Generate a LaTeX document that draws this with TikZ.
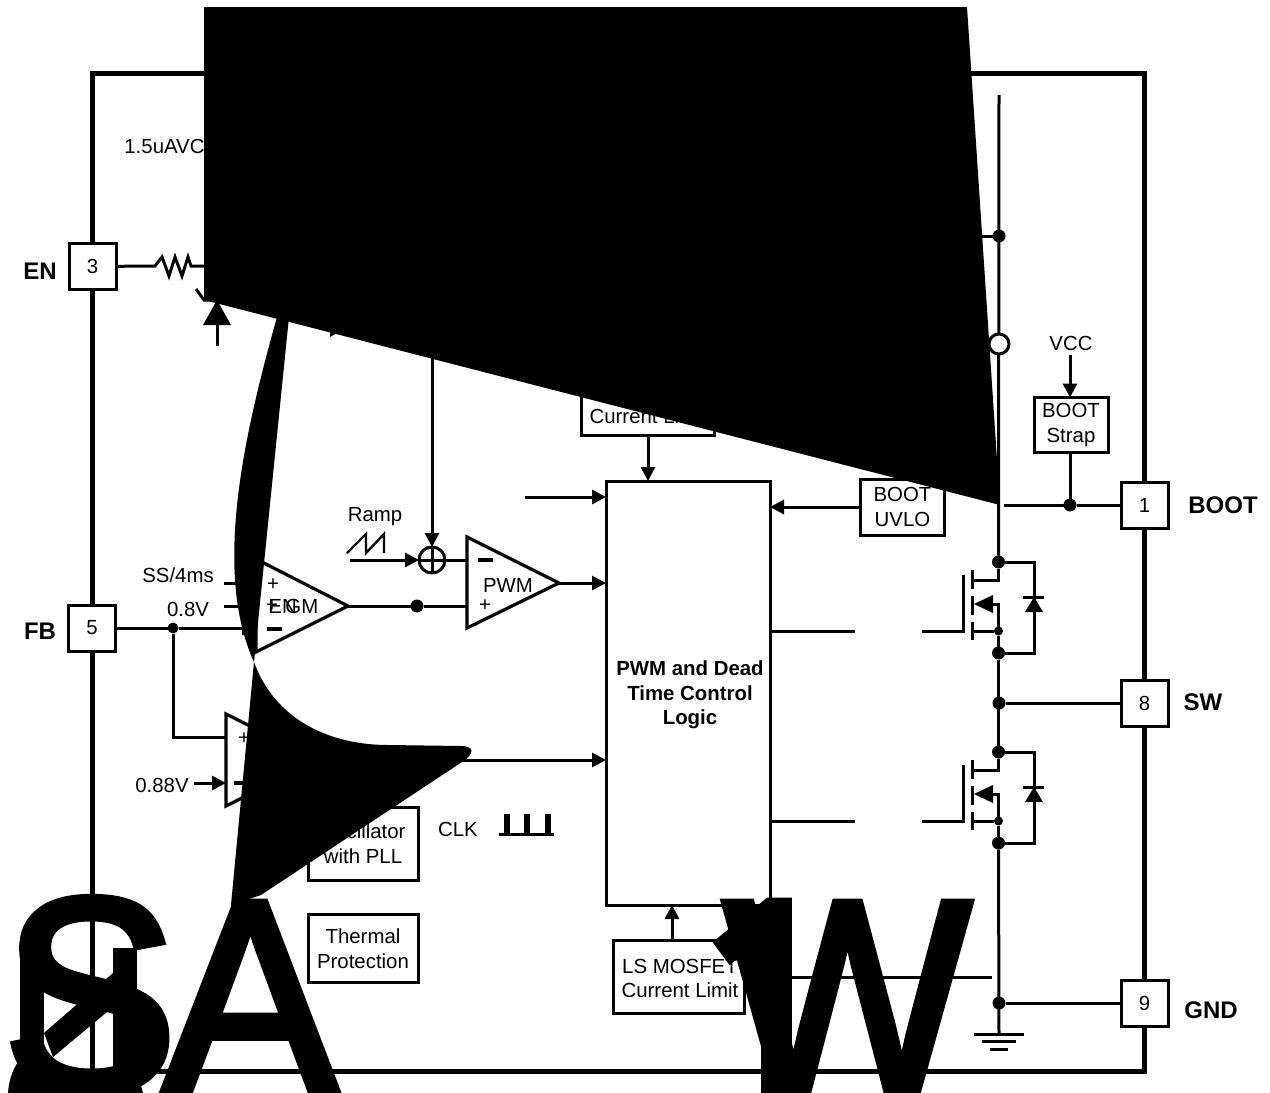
\documentclass[tikz,border=0pt]{standalone}
\usepackage{fontspec}
\setmainfont{Liberation Sans}
\newfontfamily\bigsans[FakeBold=3,FakeStretch=0.95]{Liberation Sans}
\newfontfamily\bigdigit[FakeBold=3,FakeStretch=0.95]{Noto Sans}
\usetikzlibrary{arrows.meta}
\tikzset{
  wire/.style={line width=1.5pt},
  towire/.style={line width=1.5pt, -{Triangle[length=7pt,width=7pt]}},
  framewire/.style={line width=2.5pt},
  inkfill/.style={fill=black, draw=none},
  ampshape/.style={line width=1.6pt, line join=miter, fill=white},
  sigtext/.style={font=\fontsize{10.2}{12.25}\selectfont, inner sep=0pt, align=center},
  pinlabel/.style={font=\fontsize{12}{14}\selectfont\bfseries, inner sep=0pt},
  pinbox/.style={draw, line width=1.5pt, fill=white, minimum width=23.5pt, minimum height=23pt, inner sep=0pt, outer sep=0pt, font=\fontsize{10.2}{12}\selectfont},
  blockbox/.style={draw, line width=1.5pt, fill=white, inner sep=0pt, outer sep=0pt, align=center, font=\fontsize{10.2}{12.25}\selectfont},
  junction/.style={circle, fill=black, inner sep=0pt, outer sep=0pt, minimum size=6.5pt},
  smalljunction/.style={circle, fill=black, inner sep=0pt, outer sep=0pt, minimum size=4.5pt},
  bigglyph/.style={font=\bigsans\fontsize{137.5}{140}\selectfont, inner sep=0pt, outer sep=0pt, anchor=base west},
  bigone/.style={font=\bigdigit\fontsize{137.5}{140}\selectfont, inner sep=0pt, outer sep=0pt, anchor=base west},
}
\begin{document}
\begin{tikzpicture}[x=0.5pt,y=-0.5pt]
  \useasboundingbox (0,0) rectangle (1270,1093);
  \fill[white] (0,0) rectangle (1270,1093);
  \draw[framewire] (92,73) rectangle (1144,1071);

  % pins
  \node[pinbox] (pinEN) at (92.5,266.5) {3};
  \node[pinbox] (pinFB) at (92,628) {5};
  \node[pinbox] (pinBOOT) at (1144.5,505) {1};
  \node[pinbox] (pinSW) at (1144.5,703) {8};
  \node[pinbox] (pinGND) at (1144.5,1003) {9};
  \node[pinlabel] (lblEN) at (40,271) {EN};
  \node[pinlabel] (lblFB) at (40,631) {FB};
  \node[pinlabel] (lblBOOT) at (1223,505) {BOOT};
  \node[pinlabel] (lblSW) at (1203,702) {SW};
  \node[pinlabel] (lblGND) at (1211,1010) {GND};

  % blocks
  \node[blockbox, minimum width=82pt, minimum height=212pt] (pwmLogic) at (688,693) {};
  \node[sigtext, font=\fontsize{10.2}{12.25}\selectfont\bfseries] (lblLogic) at (690,695) {PWM and Dead\\Time Control\\Logic};
  \node[blockbox, minimum width=66.5pt, minimum height=35pt] (hsLimit) at (647.5,400) {};
  \node[sigtext] (lblHsLimit) at (648,416) {Current Limit};
  \node[blockbox, minimum width=65.5pt, minimum height=36.5pt] (lsLimit) at (678.5,976.5) {};
  \node[sigtext] (lblLsLimit) at (680,978.5) {LS MOSFET\\Current Limit};
  \node[blockbox, minimum width=42pt, minimum height=28pt] (bootUvlo) at (902.5,507) {BOOT\\UVLO};
  \node[blockbox, minimum width=37pt, minimum height=27.5pt] (bootStrap) at (1071,425) {BOOT\\Strap};
  \node[blockbox, minimum width=55pt, minimum height=36.5pt] (oscPll) at (363,843.5) {Oscillator\\with PLL};
  \node[blockbox, minimum width=55pt, minimum height=34pt] (thermal) at (363,948.5) {Thermal\\Protection};

  % amplifiers
  \coordinate (eaTop) at (256,559);
  \coordinate (eaBot) at (256,652);
  \coordinate (eaOut) at (348,606);
  \coordinate (pwmTop) at (467,537);
  \coordinate (pwmBot) at (467,628);
  \coordinate (pwmOut) at (559,583);
  \coordinate (ovTop) at (226,714);
  \coordinate (ovBot) at (226,806);
  \coordinate (ovOut) at (318,760);
  \draw[ampshape] (eaTop) -- (eaOut) -- (eaBot) -- cycle;
  \draw[ampshape] (pwmTop) -- (pwmOut) -- (pwmBot) -- cycle;
  \draw[ampshape] (ovTop) -- (ovOut) -- (ovBot) -- cycle;
  \node[sigtext] (lblPwm) at (508,585) {PWM};
  \node[sigtext] (lblPwmP) at (485,606) {+};
  \node[sigtext] (lblPwmM) at (485.5,560) {\rule{7.5pt}{1.7pt}};
  \node[sigtext] (lblEaP) at (273,585) {+};
  \node[sigtext] (lblEaP2) at (272,606) {+};
  \node[sigtext] (lblEaM) at (274.5,629) {\rule{7.5pt}{1.7pt}};
  \node[sigtext, anchor=west] (lblEn) at (268,606) {EN};
  \node[sigtext, anchor=west] (lblGm) at (285,606) {GM};
  \node[sigtext] (lblOvP) at (244,739) {+};
  \node[sigtext] (lblOvM) at (241,783) {\rule{7.5pt}{1.7pt}};

  % signals round the amplifiers
  \node[junction] (jEa) at (417,606) {};
  \node[junction, minimum size=5.5pt] (jFb) at (173,628) {};
  \node[circle, draw, line width=1.5pt, fill=white, minimum size=13pt, inner sep=0pt, outer sep=0pt] (sumNode) at (432,560) {};
  \draw[wire] (sumNode.north) -- (sumNode.south);
  \draw[wire] (sumNode.west) -- (sumNode.east);
  \coordinate (sumIn) at (350,560);
  \coordinate (sumTop) at (432,340);
  \coordinate (pwmMinus) at (467,560);
  \coordinate (pwmPlus) at (467,606);
  \coordinate (ssEnd) at (224,583);
  \coordinate (ssIn) at (256,583);
  \coordinate (refEnd) at (224,606);
  \coordinate (refIn) at (256,606);
  \coordinate (fbIn) at (256,628);
  \coordinate (ovPlus) at (226,737);
  \coordinate (ovMinus) at (226,783);
  \coordinate (ovRef) at (194,783);
  \coordinate (logicFree) at (525,497);
  \draw[towire] (sumIn) -- (sumNode);
  \draw[towire] (sumTop) -- (sumNode);
  \draw[wire] (sumNode) -- (pwmMinus);
  \draw[wire] (eaOut) -- (jEa) -- (pwmPlus);
  \draw[towire] (pwmOut) -- (pwmOut -| pwmLogic.west);
  \draw[towire] (ovOut) -- (ovOut -| pwmLogic.west);
  \draw[towire] (logicFree) -- (logicFree -| pwmLogic.west);
  \draw[wire] (ssEnd) -- (ssIn);
  \draw[wire] (refEnd) -- (refIn);
  \draw[towire] (pinFB) -- (jFb) -- (fbIn);
  \draw[wire] (jFb) |- (ovPlus);
  \draw[towire] (ovRef) -- (ovMinus);
  \node[sigtext] (lblSs) at (178,575) {SS/4ms};
  \node[sigtext] (lblRef) at (188,609) {0.8V};
  \node[sigtext] (lblOvRef) at (162,785) {0.88V};
  \node[sigtext] (lblRamp) at (375,517) {Ramp};
  \node[sigtext] (lblClk) at (458,829) {CLK};
  \node[sigtext, anchor=west] (lblUa) at (124,146) {1.5uAVC};
  \draw[line width=1.2pt] (347,553) -- (366,534) -- (366,553) -- (384,534) -- (384,553);
  \draw[line width=1.5pt] (499,834) -- (505,834) -- (505,815) -- (508,815) -- (508,834) -- (525,834) -- (525,815) -- (528,815) -- (528,834) -- (546,834) -- (546,815) -- (549,815) -- (549,834) -- (554,834);

  % EN input
  \coordinate (enRes) at (155,266);
  \coordinate (enEnd) at (215,266);
  \draw[wire] (pinEN) -- (enRes) -- (162,257) -- (169,276) -- (175,257) -- (182,276) -- (188,257) -- (191,266) -- (enEnd);
  \coordinate (znTip) at (217,300);
  \coordinate (znFoot) at (217,346);
  \draw[wire] (196,289) -- (204,300) -- (znTip);
  \draw[wire] (znTip) -- (znFoot);
  \fill (znTip) -- (203,325) -- (231,325) -- cycle;
  \fill (330,312) -- (330,337) -- (346,328) -- cycle;

  % logic connections
  \coordinate (limitDrop) at (648,435);
  \coordinate (lsUp) at (672,940);
  \draw[towire] (limitDrop) -- (limitDrop |- pwmLogic.north);
  \draw[towire] (lsUp) -- (lsUp |- pwmLogic.south);
  \draw[towire] (bootUvlo.west) -- (bootUvlo.west -| pwmLogic.east);
  \coordinate (lsSense) at (770,977);
  \coordinate (lsSenseEnd) at (992,977);
  \draw[wire] (lsSense) -- (lsSenseEnd);

  % rail
  \coordinate (railTop) at (999,95);
  \coordinate (gndTop) at (999,1034);
  \node[junction] (jRail) at (999,236) {};
  \coordinate (jRailIn) at (975,236);
  \node[junction] (jBoot) at (1070,505) {};
  \coordinate (bootStub) at (1004,505);
  \coordinate (vccEnd) at (1070,355);
  \node[sigtext] (lblVcc) at (1071,343) {VCC};
  \draw[towire] (vccEnd) -- (bootStrap.north -| vccEnd);
  \draw[wire] (bootStrap.south -| jBoot) -- (jBoot);
  \draw[wire] (bootStub) -- (jBoot) -- (pinBOOT);
  \draw[wire] (jRailIn) -- (jRail);
  \node[junction] (jSw) at (999,703) {};
  \node[junction] (jGnd) at (999,1003) {};
  \draw[wire] (jSw) -- (pinSW);
  \draw[wire] (jGnd) -- (pinGND);
  \foreach \dy in {0,190} {
    \node[junction] (jDr\dy) at (998.5,{562+\dy}) {};
    \node[smalljunction] (jBody\dy) at (998.5,{631+\dy}) {};
    \node[junction] (jSo\dy) at (998.5,{653+\dy}) {};
    \coordinate (gateOut\dy) at (770,{631+\dy});
    \coordinate (gateEnd\dy) at (855,{631+\dy});
    \coordinate (gateIn\dy) at (922,{631+\dy});
    \draw[wire] (gateOut\dy) -- (gateEnd\dy);
    \draw[wire] (gateIn\dy) -- (963,{631+\dy}) -- (963,{575+\dy});
    \draw[wire] (972,{570+\dy}) -- (972,{589+\dy});
    \draw[wire] (972,{596+\dy}) -- (972,{615+\dy});
    \draw[wire] (972,{622+\dy}) -- (972,{640+\dy});
    \draw[wire] (972,{580+\dy}) -| (jDr\dy);
    \draw[wire] (972,{631+\dy}) -- (jBody\dy);
    \draw[wire] (993,{604+\dy}) -| (jBody\dy);
    \draw[wire] (jBody\dy) -- (jSo\dy);
    \fill (974,{604+\dy}) -- (993,{595+\dy}) -- (993,{613+\dy}) -- cycle;
    \draw[wire] (jDr\dy) -| (1034,{597+\dy});
    \draw[wire] (1034,{597+\dy}) -- (1034,{653+\dy}) -- (jSo\dy);
    \draw[wire] (1023,{597+\dy}) -- (1044,{597+\dy});
    \fill (1034,{597+\dy}) -- (1025,{612+\dy}) -- (1043,{612+\dy}) -- cycle;
  }
  \draw[wire] (railTop) -- (jDr0);
  \draw[wire] (jSo0) -- (jDr190);
  \draw[wire] (jSo190) -- (gndTop);
  \node[circle, draw, line width=1.5pt, fill=white, minimum size=10pt, inner sep=0pt, outer sep=0pt] (railOpen) at (999,344) {};
  \draw[wire] (974,1034) -- (1024,1034);
  \draw[wire] (982,1041.5) -- (1016,1041.5);
  \draw[wire] (990,1049) -- (1008,1049);

  % black ink over the drawing
  \fill[inkfill] (204,7) -- (967,7) -- (1000,505) -- (204,300) -- cycle;
  \fill[inkfill] (279,310) .. controls (245,430) and (212,570) .. (254,662) -- (289,317) -- cycle;
  \fill[inkfill] (254,662) .. controls (275,720) and (330,745) .. (388,745) -- (461,746) .. controls (472,746) and (476,751) .. (465,760) -- (261,895) -- (231,905) -- cycle;
  \node[bigglyph] (glyphS) at (3,1090) {S};
  \node[bigglyph] (glyphA) at (163,1092) {A};
  \node[bigone] (glyphOne) at (695,1098) {1};
  \node[bigglyph] (glyphW) at (724,1092) {W};
  \fill[inkfill] (20,953) rectangle (44,1045);
  \fill[inkfill] (113,948) rectangle (137,1093);
  \fill[inkfill] (44,1033) -- (113,973) -- (113,1007) -- (53,1057) -- cycle;
  \fill[inkfill] (8,1093) .. controls (9,1078) and (14,1066) .. (22,1057) -- (60,1070) -- (137,1070) -- (143,1093) -- cycle;
\end{tikzpicture}
\end{document}
